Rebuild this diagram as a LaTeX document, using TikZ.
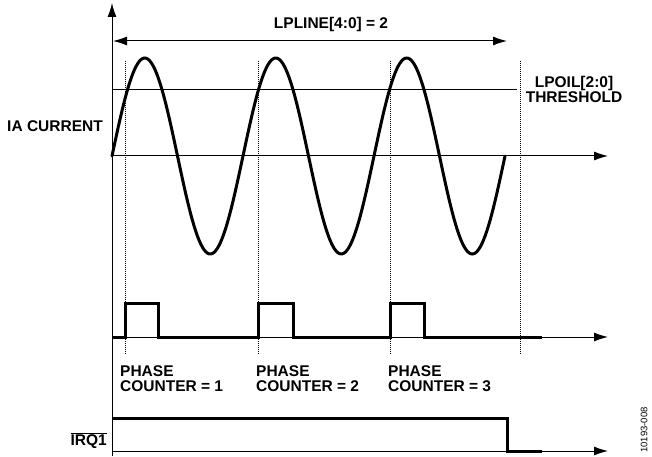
\documentclass[tikz,border=0pt]{standalone}
\usepackage{fontspec}
\setmainfont{Liberation Sans}
\usetikzlibrary{arrows.meta}

\begin{document}
\begin{tikzpicture}[x=1bp,y=-1bp,line join=miter,>={Latex[length=14bp,width=9bp]},
  axis/.style={line width=1bp},
  trace/.style={line width=3bp},
  guide/.style={line width=0.8bp,dash pattern=on 1bp off 1bp},
  lbl/.style={font=\fontsize{15.5bp}{15.5bp}\selectfont\bfseries,inner sep=0pt}]
  \useasboundingbox (0,0) rectangle (652,457);
  % axes
  \coordinate (ybot) at (112,456);
  \coordinate (ytop) at (112,3);
  \coordinate (iaL) at (112,156);
  \coordinate (iaR) at (608,156);
  \coordinate (thL) at (112,90);
  \coordinate (thR) at (517,90);
  \coordinate (lpL) at (113,41);
  \coordinate (lpR) at (507,41);
  \coordinate (phL) at (112,337);
  \coordinate (phR) at (608,337);
  \coordinate (irqL) at (112,451);
  \coordinate (irqR) at (608,451);
  \draw[axis,->] (ybot) -- (ytop);
  \draw[axis,->] (iaL) -- (iaR);
  \draw[axis,->] (phL) -- (phR);
  \draw[axis,->] (irqL) -- (irqR);
  \draw[axis] (thL) -- (thR);
  \draw[axis,<->] (lpL) -- (lpR);
  % dotted markers
  \draw[guide] (125,61) -- (125,354);
  \draw[guide] (258,61) -- (258,354);
  \draw[guide] (390,61) -- (390,354);
  \draw[guide] (520,61) -- (520,354);
  % waveform
  \draw[trace,line cap=round] plot[domain=112:505,samples=240] (\x,{156-98*sin(2.74809*(\x-112))});
  \draw[trace] (phL) -- (125,337) -- (125,303) -- (158,303) -- (158,337) -- (258,337)
    -- (258,303) -- (293,303) -- (293,337) -- (390,337) -- (390,303) -- (424,303)
    -- (424,337) -- (542,337);
  \draw[trace] (112,418) -- (507,418) -- (507,451) -- (542,451);
  % labels
  \node[lbl,anchor=base] (lpline) at (331,28.5) {LPLINE[4:0] = 2};
  \node[lbl,anchor=base east] (ia) at (103,131.5) {IA CURRENT};
  \node[lbl,anchor=north,align=center] (lpoil) at (574,76) {LPOIL[2:0]\\THRESHOLD};
  \node[lbl,anchor=north west,align=left] (ph1) at (120,365) {PHASE\\COUNTER = 1};
  \node[lbl,anchor=north west,align=left] (ph2) at (256,365) {PHASE\\COUNTER = 2};
  \node[lbl,anchor=north west,align=left] (ph3) at (388,365) {PHASE\\COUNTER = 3};
  \node[lbl,anchor=east] (irq) at (107,441) {$\overline{\hbox{IRQ1}}$};
  \node[font=\fontsize{9.5bp}{10bp}\selectfont,rotate=90,inner sep=0pt] (figid) at (644,430) {10193-008};
\end{tikzpicture}
\end{document}
